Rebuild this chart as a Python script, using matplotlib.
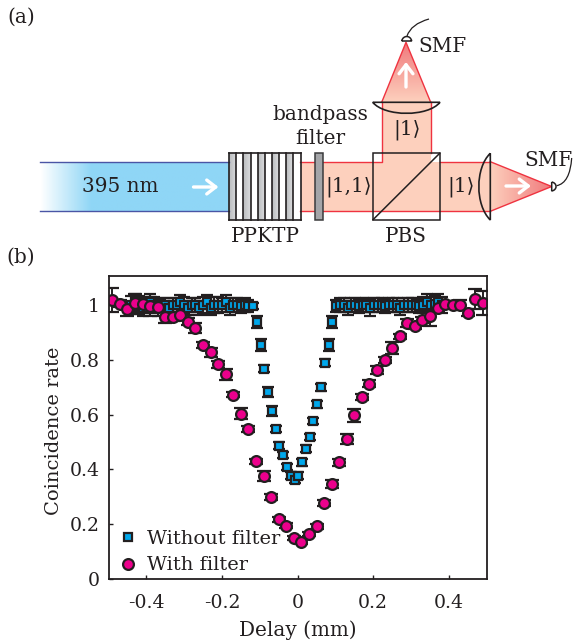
import numpy as np
import matplotlib
matplotlib.use('Agg')
import matplotlib.pyplot as plt
from matplotlib.colors import LinearSegmentedColormap
from matplotlib.lines import Line2D
from matplotlib.patches import Polygon, PathPatch, Rectangle
from matplotlib.path import Path

plt.rcParams['font.family'] = ['DejaVu Serif', 'DejaVu Sans']

# data
delay_filter = [-0.49, -0.47, -0.45, -0.43, -0.41, -0.39, -0.37, -0.35, -0.33, -0.31,
                -0.29, -0.27, -0.25, -0.23, -0.21, -0.19, -0.17, -0.15, -0.13, -0.11,
                -0.09, -0.07, -0.05, -0.03, -0.01, 0.01, 0.03, 0.05, 0.07, 0.09,
                0.11, 0.13, 0.15, 0.17, 0.19, 0.21, 0.23, 0.25, 0.27, 0.29,
                0.31, 0.33, 0.35, 0.37, 0.39, 0.41, 0.43, 0.45, 0.47, 0.49]
rate_filter = [1.018, 1.005, 0.984, 1.006, 1.005, 0.995, 0.993, 0.957, 0.957, 0.962,
               0.939, 0.915, 0.854, 0.827, 0.783, 0.748, 0.673, 0.603, 0.547, 0.429,
               0.375, 0.300, 0.218, 0.195, 0.149, 0.134, 0.165, 0.192, 0.278, 0.347,
               0.426, 0.511, 0.597, 0.664, 0.713, 0.762, 0.799, 0.842, 0.886, 0.935,
               0.925, 0.946, 0.959, 0.988, 1.002, 1.001, 1.000, 0.972, 1.022, 1.007]
err_filter = [0.045, 0.012, 0.025, 0.035, 0.020, 0.035, 0.018, 0.022, 0.015, 0.012,
              0.012, 0.018, 0.012, 0.015, 0.012, 0.020, 0.008, 0.020, 0.012, 0.010,
              0.018, 0.012, 0.010, 0.008, 0.008, 0.008, 0.008, 0.010, 0.012, 0.015,
              0.012, 0.018, 0.025, 0.012, 0.012, 0.015, 0.012, 0.022, 0.010, 0.015,
              0.012, 0.012, 0.035, 0.012, 0.012, 0.012, 0.018, 0.012, 0.035, 0.045]

delay_nofilter = [-0.44, -0.43, -0.42, -0.41, -0.40, -0.39, -0.38, -0.37, -0.36, -0.35,
                  -0.34, -0.33, -0.32, -0.31, -0.30, -0.29, -0.28, -0.27, -0.26, -0.25,
                  -0.24, -0.23, -0.22, -0.21, -0.20, -0.19, -0.18, -0.17, -0.16, -0.15,
                  -0.14, -0.13, -0.118, -0.108, -0.098, -0.088, -0.078, -0.068, -0.058,
                  -0.048, -0.038, -0.028, -0.018, -0.008, 0.002, 0.012, 0.022, 0.032,
                  0.042, 0.052, 0.062, 0.072, 0.082, 0.092, 0.102, 0.112, 0.122, 0.132,
                  0.142, 0.152, 0.162, 0.172, 0.182, 0.192, 0.202, 0.212, 0.222, 0.232,
                  0.242, 0.252, 0.262, 0.272, 0.282, 0.292, 0.302, 0.312, 0.322, 0.332,
                  0.342, 0.352, 0.362, 0.372, 0.382]
rate_nofilter = [1.00, 1.01, 1.00, 0.99, 1.00, 1.01, 1.00, 0.99, 1.00, 1.00,
                 0.99, 1.00, 1.00, 1.01, 1.00, 0.99, 1.00, 1.00, 0.99, 1.00,
                 1.01, 0.99, 1.00, 1.00, 1.00, 1.01, 0.99, 1.00, 1.00, 0.995,
                 1.00, 0.996, 0.996, 0.937, 0.854, 0.768, 0.684, 0.613, 0.547,
                 0.487, 0.453, 0.409, 0.377, 0.361, 0.377, 0.426, 0.476, 0.518,
                 0.577, 0.637, 0.700, 0.790, 0.854, 0.937, 0.995, 1.00, 1.00,
                 0.99, 1.00, 1.00, 0.995, 1.00, 1.00, 0.99, 1.00, 1.00,
                 1.00, 0.995, 1.00, 1.00, 1.00, 0.99, 1.00, 1.00, 1.00,
                 1.00, 0.995, 1.00, 1.01, 1.00, 1.005, 1.01, 1.00]
err_nofilter = [0.032, 0.03, 0.032, 0.03, 0.03, 0.032, 0.03, 0.03, 0.025, 0.025,
                0.025, 0.025, 0.025, 0.025, 0.03, 0.025, 0.025, 0.025, 0.025, 0.03,
                0.025, 0.025, 0.03, 0.03, 0.025, 0.025, 0.025, 0.025, 0.025, 0.025,
                0.025, 0.022, 0.012, 0.022, 0.022, 0.012, 0.018, 0.018, 0.012,
                0.012, 0.012, 0.012, 0.012, 0.012, 0.012, 0.012, 0.012, 0.012,
                0.012, 0.012, 0.012, 0.012, 0.022, 0.022, 0.022, 0.025, 0.025,
                0.025, 0.025, 0.025, 0.025, 0.025, 0.025, 0.03, 0.025, 0.025,
                0.025, 0.025, 0.025, 0.025, 0.025, 0.025, 0.025, 0.025, 0.025,
                0.025, 0.025, 0.03, 0.03, 0.03, 0.032, 0.03, 0.03]

x_ticks = [-0.4, -0.2, 0, 0.2, 0.4]
x_labels = ['-0.4', '-0.2', '0', '0.2', '0.4']
y_ticks = [0, 0.2, 0.4, 0.6, 0.8, 1]
y_labels = ['0', '0.2', '0.4', '0.6', '0.8', '1']

DARK = '#231f20'
BLUE = '#00a8ec'
PINK = '#ec008c'
RED = '#ef3340'
FS = 14.4

fig = plt.figure(figsize=(5.73, 6.43), dpi=100)

# (b) the data panel, axes placed in pixels of the reference
ax = fig.add_axes([108.5 / 573, 1 - 579 / 643, 378.2 / 573, 303 / 643])
ax.errorbar(delay_nofilter, rate_nofilter, yerr=err_nofilter, fmt='s', ms=6.2, mew=1.6,
            mfc=BLUE, mec=DARK, ecolor=DARK, elinewidth=1.4, capsize=4, capthick=1.5)
ax.errorbar(delay_filter, rate_filter, yerr=err_filter, fmt='o', ms=7.8, mew=1.6,
            mfc=PINK, mec=DARK, ecolor=DARK, elinewidth=1.4, capsize=5, capthick=1.5)
ax.set_xlim(-0.5, 0.5)
ax.set_ylim(0, 1.106)
ax.set_xticks(x_ticks, x_labels)
ax.set_yticks(y_ticks, y_labels)
ax.tick_params(direction='in', length=3, width=1, labelsize=13.6, colors=DARK, pad=6)
ax.tick_params(axis='x', pad=11)
for s in ax.spines.values():
    s.set_linewidth(1.3)
    s.set_color(DARK)
ax.set_xlabel('Delay (mm)', fontsize=FS, color=DARK)
ax.set_ylabel('Coincidence rate', fontsize=14, color=DARK)
ax.xaxis.set_label_coords(0.5, -0.138)
ax.yaxis.set_label_coords(-0.12, 0.49)
handles = [Line2D([], [], ls='', marker='s', ms=6.2, mew=1.6, mfc=BLUE, mec=DARK),
           Line2D([], [], ls='', marker='o', ms=7.8, mew=1.6, mfc=PINK, mec=DARK)]
ax.legend(handles, ['Without filter', 'With filter'], loc='lower left', frameon=False,
          fontsize=14, labelcolor=DARK, handletextpad=0.18, labelspacing=0.42,
          handlelength=1.6, borderpad=0, borderaxespad=0, bbox_to_anchor=(0.011, 0.015))

# (a) the setup sketch, drawn in image pixels on a full figure layer
sk = fig.add_axes([0, 0, 1, 1], facecolor='none')
sk.set_xlim(0, 573)
sk.set_ylim(643, 0)
sk.axis('off')


def gradient(colors, extent, clip, vertical=False):
    cmap = LinearSegmentedColormap.from_list('g', colors)
    g = np.linspace(0, 1, 128)
    g = g[:, None] if vertical else g[None, :]
    im = sk.imshow(g, cmap=cmap, extent=extent, aspect='auto', zorder=1)
    p = Polygon(clip, closed=True, transform=sk.transData, fc='none', ec='none')
    sk.add_patch(p)
    im.set_clip_path(p)


def white_arrow(x0, y0, x1, y1):
    sk.annotate('', xy=(x1, y1), xytext=(x0, y0), zorder=6,
                arrowprops=dict(arrowstyle='->,head_length=0.65,head_width=0.5',
                                color='white', lw=2.4, shrinkA=0, shrinkB=0))


SALMON = '#fdd0bd'

# pump beam
gradient([(0, '#ffffff'), (0.27, '#8fd6f6'), (1, '#8fd6f6')], (40, 229, 211.3, 161.7),
         [(40, 161.7), (229, 161.7), (229, 211.3), (40, 211.3)])
for y in (161.7, 211.3):
    sk.plot([40, 229], [y, y], color='#4a55a5', lw=1, zorder=2)

# red beams
sk.add_patch(Polygon([(300, 161.7), (381.7, 161.7), (381.7, 102.3), (430.7, 102.3),
                      (430.7, 161.7), (490.3, 161.7), (490.3, 211.3), (300, 211.3)],
                     closed=True, fc=SALMON, ec='none', zorder=1))
sk.plot([300, 381.7, 381.7], [161.7, 161.7, 102.3], color=RED, lw=1, zorder=2)
sk.plot([430.7, 430.7], [102.3, 153], color=RED, lw=1, zorder=2)
sk.plot([439.7, 490.3], [161.7, 161.7], color=RED, lw=1, zorder=2)
sk.plot([300, 490.3], [211.3, 211.3], color=RED, lw=1, zorder=2)

# focused cones
gradient(['#f0797c', SALMON], (381.7, 430.7, 102.3, 42.3),
         [(381.7, 102.3), (430.7, 102.3), (406, 42.3)], vertical=True)
sk.plot([381.7, 406, 430.7], [102.3, 42.3, 102.3], color=RED, lw=1, zorder=2)
gradient([SALMON, '#f0797c'], (490.3, 551.7, 211.3, 161.7),
         [(490.3, 161.7), (551.7, 186.5), (490.3, 211.3)])
sk.plot([490.3, 551.7, 490.3], [161.7, 186.5, 211.3], color=RED, lw=1, zorder=2)

# crystal slabs
slab_edges = [229, 236.3, 243.3, 250.7, 257.7, 264.7, 271.7, 278.7, 286, 293, 300.5]
for i in range(10):
    if i % 2 == 0:
        gradient(['#b9bbbd', '#dcdddf'], (slab_edges[i], slab_edges[i + 1], 219.7, 153.3),
                 [(slab_edges[i], 153.3), (slab_edges[i + 1], 153.3),
                  (slab_edges[i + 1], 219.7), (slab_edges[i], 219.7)])
    else:
        sk.add_patch(Rectangle((slab_edges[i], 153.3), slab_edges[i + 1] - slab_edges[i], 66.4,
                               fc='white', ec='none', zorder=1))
for e in slab_edges:
    sk.plot([e, e], [153.3, 219.7], color=DARK, lw=1.2, zorder=3)
sk.plot([229, 300.5], [153.3, 153.3], color=DARK, lw=1.2, zorder=3)
sk.plot([229, 300.5], [219.7, 219.7], color=DARK, lw=1.2, zorder=3)

# filter and PBS
sk.add_patch(Rectangle((315.3, 153.3), 7.4, 66.4, fc='#a4a5a8', ec='#3a3a3c', lw=1.1, zorder=3))
sk.add_patch(Rectangle((373, 153.3), 66.7, 66.4, fc='none', ec=DARK, lw=1.1, zorder=3))
sk.plot([373, 439.7], [219.7, 153.3], color=DARK, lw=1.1, zorder=3)

# lenses
sk.add_patch(PathPatch(Path([(372.7, 102.3), (440, 102.3), (428, 117), (385, 117), (372.7, 102.3)],
                            [Path.MOVETO, Path.LINETO, Path.CURVE4, Path.CURVE4, Path.CURVE4]),
                       fc='none', ec=DARK, lw=1.2, zorder=3))
sk.add_patch(PathPatch(Path([(490.3, 153.3), (490.3, 220), (475, 205), (475, 168), (490.3, 153.3)],
                            [Path.MOVETO, Path.LINETO, Path.CURVE4, Path.CURVE4, Path.CURVE4]),
                       fc='none', ec=DARK, lw=1.2, zorder=3))

# fibre couplers
sk.add_patch(PathPatch(Path([(401.7, 41), (411.7, 41), (410.5, 35), (403, 35), (401.7, 41)],
                            [Path.MOVETO, Path.LINETO, Path.CURVE4, Path.CURVE4, Path.CURVE4]),
                       fc='white', ec=DARK, lw=1.1, zorder=4))
sk.add_patch(PathPatch(Path([(407, 36), (411, 24), (429, 19)],
                            [Path.MOVETO, Path.CURVE3, Path.CURVE3]),
                       fc='none', ec=DARK, lw=0.9, zorder=4))
sk.add_patch(PathPatch(Path([(551.7, 182), (551.7, 191), (557.5, 190), (557.5, 183), (551.7, 182)],
                            [Path.MOVETO, Path.LINETO, Path.CURVE4, Path.CURVE4, Path.CURVE4]),
                       fc='white', ec=DARK, lw=1.1, zorder=4))
sk.add_patch(PathPatch(Path([(556.7, 185.7), (570, 183), (571.7, 158)],
                            [Path.MOVETO, Path.CURVE3, Path.CURVE3]),
                       fc='none', ec=DARK, lw=0.9, zorder=4))

# direction arrows
white_arrow(193.5, 187, 218.5, 187)
white_arrow(406, 87, 406, 62)
white_arrow(506, 186, 531, 186)

# sketch labels
labels = [('395 nm', 120, 187), ('bandpass', 320, 115), ('filter', 320, 139),
          ('PPKTP', 265, 236), ('PBS', 406, 236), ('|1,1\u27e9', 349, 187),
          ('|1\u27e9', 407, 130), ('|1\u27e9', 461, 187), ('SMF', 442, 46),
          ('SMF', 549, 161), ('(a)', 21, 17), ('(b)', 21, 257)]
for txt, x, y in labels:
    sk.text(x, y, txt, fontsize=FS, color=DARK, ha='center', va='center', zorder=7)

fig.savefig('out.png', dpi=100)
